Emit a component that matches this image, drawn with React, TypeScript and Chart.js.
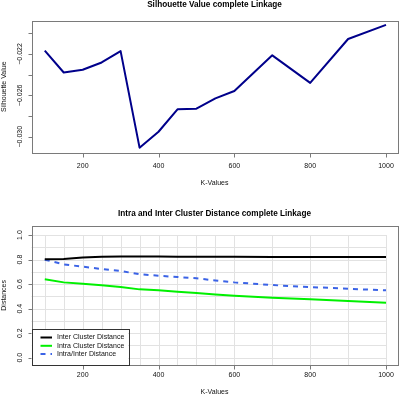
import React, { useEffect, useRef } from "react";
import { Chart, registerables } from "chart.js";

Chart.register(...registerables);

// ---------- data ----------
const kValues = [100, 150, 200, 250, 300, 350, 400, 450, 500, 550, 600, 700, 800, 900, 1000];
const silhouette = [
  -0.02168, -0.02379, -0.02353, -0.02282, -0.02172, -0.03106, -0.02952, -0.02735,
  -0.02729, -0.02629, -0.02558, -0.02213, -0.02479, -0.02055, -0.01919,
];
const interDist = [0.803, 0.805, 0.817, 0.822, 0.825, 0.825, 0.824, 0.823, 0.823, 0.822, 0.822, 0.821, 0.821, 0.82, 0.82];
const intraDist = [0.639, 0.614, 0.603, 0.59, 0.576, 0.557, 0.549, 0.538, 0.527, 0.515, 0.505, 0.489, 0.476, 0.462, 0.448];
const ratioDist = [0.799, 0.761, 0.742, 0.723, 0.707, 0.68, 0.668, 0.658, 0.647, 0.63, 0.614, 0.592, 0.576, 0.562, 0.549];

const seriesNames = ["Inter Cluster Distance", "Intra Cluster Distance", "Intra/Inter Distance"];

const xTickValues = [200, 400, 600, 800, 1000];
const xTickLabels = ["200", "400", "600", "800", "1000"];
const silTickValues = [-0.03, -0.028, -0.026, -0.024, -0.022, -0.02];
const silTickLabels = ["\u22120.030", "", "\u22120.026", "", "\u22120.022", ""];
const distTickValues = [0, 0.2, 0.4, 0.6, 0.8, 1.0];
const distTickLabels = ["0.0", "0.2", "0.4", "0.6", "0.8", "1.0"];
const distGridY = [0, 0.1, 0.2, 0.3, 0.4, 0.5, 0.6, 0.7, 0.8, 0.9, 1.0];

const topTitle = "Silhouette Value complete Linkage";
const bottomTitle = "Intra and Inter Cluster Distance complete Linkage";
const xAxisTitle = "K-Values";
const topYTitle = "Silhouette Value";
const bottomYTitle = "Distances";

// ---------- styling ----------
const FONT = '"Liberation Sans", Arial, Helvetica, sans-serif';
const TEXT = "#111";
const FRAME = "#7a7a7a";

const rPlugin = {
  id: "rbase",
  beforeDatasetsDraw(chart: any, _args: any, opts: any) {
    if (!opts.gridX) return;
    const { ctx, chartArea: a, scales } = chart;
    const x = scales.x, y = scales.y;
    ctx.save();
    ctx.strokeStyle = "#e2e2e2";
    ctx.lineWidth = 1;
    const yTop = y.getPixelForValue(opts.gridYMax);
    for (const v of opts.gridX) {
      const px = Math.round(x.getPixelForValue(v)) + 0.5;
      ctx.beginPath();
      ctx.moveTo(px, yTop);
      ctx.lineTo(px, a.bottom);
      ctx.stroke();
    }
    const xRight = x.getPixelForValue(opts.gridXMax);
    for (const v of opts.gridY) {
      const py = Math.round(y.getPixelForValue(v)) + 0.5;
      ctx.beginPath();
      ctx.moveTo(a.left, py);
      ctx.lineTo(xRight, py);
      ctx.stroke();
    }
    ctx.restore();
  },
  afterDraw(chart: any, _args: any, opts: any) {
    const { ctx, chartArea: a, scales } = chart;
    const x = scales.x, y = scales.y;
    ctx.save();
    // frame
    ctx.strokeStyle = FRAME;
    ctx.lineWidth = 1;
    ctx.strokeRect(Math.round(a.left) + 0.5, Math.round(a.top) + 0.5, Math.round(a.right - a.left), Math.round(a.bottom - a.top));

    // x axis ticks
    const bY = Math.round(a.bottom) + 0.5;
    ctx.beginPath();
    opts.xTicks.forEach((v: number) => {
      const px = Math.round(x.getPixelForValue(v)) + 0.5;
      ctx.moveTo(px, bY);
      ctx.lineTo(px, bY + 4);
    });
    ctx.stroke();
    // y axis ticks
    const lX = Math.round(a.left) + 0.5;
    ctx.beginPath();
    opts.yTicks.forEach((v: number) => {
      const py = Math.round(y.getPixelForValue(v)) + 0.5;
      ctx.moveTo(lX, py);
      ctx.lineTo(lX - 4, py);
    });
    ctx.stroke();

    ctx.fillStyle = TEXT;
    ctx.font = `7px ${FONT}`;
    ctx.textAlign = "center";
    ctx.textBaseline = "middle";
    opts.xTicks.forEach((v: number, i: number) => {
      ctx.fillText(opts.xLabels[i], x.getPixelForValue(v), a.bottom + opts.xLabelGap);
    });
    opts.yTicks.forEach((v: number, i: number) => {
      const lab = opts.yLabels[i];
      if (!lab) return;
      ctx.save();
      ctx.translate(opts.yLabelX, y.getPixelForValue(v));
      ctx.rotate(-Math.PI / 2);
      ctx.fillText(lab, 0, 0);
      ctx.restore();
    });
    // axis titles
    const cx = (a.left + a.right) / 2;
    const cy = (a.top + a.bottom) / 2;
    ctx.fillText(opts.xTitle, cx, a.bottom + opts.xTitleGap);
    ctx.save();
    ctx.translate(opts.yTitleX, cy);
    ctx.rotate(-Math.PI / 2);
    ctx.fillText(opts.yTitle, 0, 0);
    ctx.restore();
    // main title
    ctx.font = `bold 8.2px ${FONT}`;
    ctx.fillStyle = "#000";
    ctx.fillText(opts.title, cx, opts.titleY);

    // legend
    if (opts.legend) {
      const L = opts.legend;
      ctx.fillStyle = "#fff";
      ctx.fillRect(a.left, L.top, L.right - a.left, a.bottom - L.top);
      ctx.strokeStyle = "#333";
      ctx.lineWidth = 1;
      ctx.strokeRect(Math.round(a.left) + 0.5, Math.round(L.top) + 0.5, Math.round(L.right - a.left), Math.round(a.bottom - L.top));
      chart.data.datasets.forEach((ds: any, i: number) => {
        const ry = L.firstRow + i * L.rowGap;
        ctx.strokeStyle = ds.borderColor;
        ctx.lineWidth = ds.borderWidth;
        ctx.setLineDash(ds.borderDash || []);
        ctx.beginPath();
        ctx.moveTo(a.left + L.lineStart, ry);
        ctx.lineTo(a.left + L.lineEnd, ry);
        ctx.stroke();
        ctx.setLineDash([]);
        ctx.fillStyle = TEXT;
        ctx.font = `7px ${FONT}`;
        ctx.textAlign = "left";
        ctx.fillText(ds.label, a.left + L.textStart, ry);
      });
    }
    ctx.restore();
  },
};

const X_MIN = 65;
const X_MAX = 1030.3;

function makePoints(vals: number[]) {
  return kValues.map((k, i) => ({ x: k, y: vals[i] }));
}

export default function App() {
  const topRef = useRef<HTMLCanvasElement>(null);
  const botRef = useRef<HTMLCanvasElement>(null);

  useEffect(() => {
    const common = (yMin: number, yMax: number) => ({
      responsive: false,
      animation: false as const,
      events: [],
      scales: {
        x: { type: "linear" as const, display: false, min: X_MIN, max: X_MAX },
        y: { type: "linear" as const, display: false, min: yMin, max: yMax },
      },
      elements: { point: { radius: 0 }, line: { tension: 0, borderJoinStyle: "round" as const } },
    });

    const top = new Chart(topRef.current!, {
      type: "line",
      data: {
        datasets: [
          {
            label: topYTitle,
            data: makePoints(silhouette),
            borderColor: "#00008B",
            borderWidth: 2,
            fill: false,
          },
        ],
      },
      options: {
        ...common(-0.031547, -0.018781),
        layout: { padding: { left: 31.5, right: 2.5, top: 20.7, bottom: 42.3 } },
        plugins: {
          legend: { display: false },
          tooltip: { enabled: false },
          title: { display: false },
          rbase: {
            title: topTitle,
            titleY: 4.5,
            xTitle: xAxisTitle,
            yTitle: topYTitle,
            xTicks: xTickValues,
            xLabels: xTickLabels,
            yTicks: silTickValues,
            yLabels: silTickLabels,
            xLabelGap: 13,
            xTitleGap: 30,
            yLabelX: 20,
            yTitleX: 4.5,
          },
        } as any,
      },
      plugins: [rPlugin],
    });

    const bottom = new Chart(botRef.current!, {
      type: "line",
      data: {
        datasets: [
          { label: seriesNames[0], data: makePoints(interDist), borderColor: "#000000", borderWidth: 2, fill: false },
          { label: seriesNames[1], data: makePoints(intraDist), borderColor: "#00F000", borderWidth: 2, fill: false },
          {
            label: seriesNames[2],
            data: makePoints(ratioDist),
            borderColor: "#3B63E6",
            borderWidth: 2,
            borderDash: [5, 5],
            fill: false,
          },
        ],
      },
      options: {
        ...common(-0.0595, 1.076),
        layout: { padding: { left: 31.5, right: 2.5, top: 30.7, bottom: 30 } },
        plugins: {
          legend: { display: false },
          tooltip: { enabled: false },
          title: { display: false },
          rbase: {
            title: bottomTitle,
            titleY: 18.3,
            xTitle: xAxisTitle,
            yTitle: bottomYTitle,
            xTicks: xTickValues,
            xLabels: xTickLabels,
            yTicks: distTickValues,
            yLabels: distTickLabels,
            xLabelGap: 10.5,
            xTitleGap: 27.5,
            yLabelX: 20,
            yTitleX: 4.5,
            gridX: kValues,
            gridY: distGridY,
            gridYMax: 1.0,
            gridXMax: 1000,
            legend: { top: 134, right: 128, firstRow: 142.5, rowGap: 8.3, lineStart: 9, lineEnd: 20.5, textStart: 25.5 },
          },
        } as any,
      },
      plugins: [rPlugin],
    });

    return () => {
      top.destroy();
      bottom.destroy();
    };
  }, []);

  return (
    <div style={{ position: "absolute", left: 0, top: 0, width: 400, height: 395, background: "#fff" }}>
      <canvas ref={topRef} width={400} height={195} style={{ display: "block", width: 400, height: 195 }} />
      <canvas ref={botRef} width={400} height={200} style={{ display: "block", width: 400, height: 200 }} />
    </div>
  );
}
